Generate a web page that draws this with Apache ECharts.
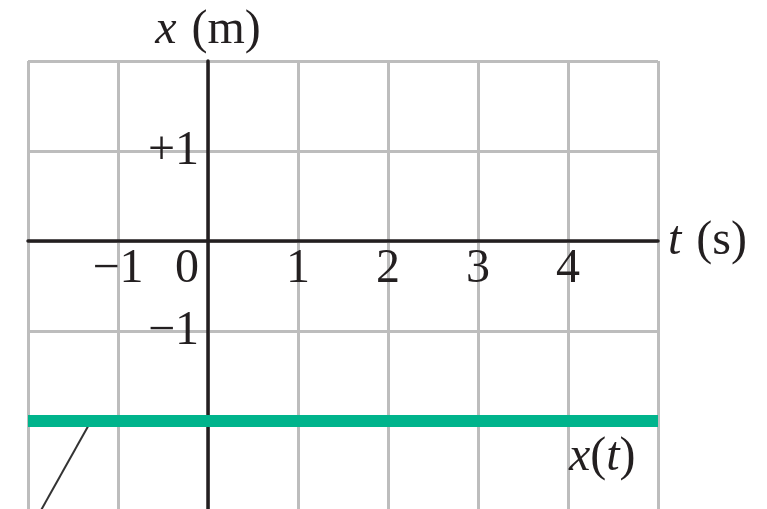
<!DOCTYPE html>
<html>
<head>
<meta charset="utf-8">
<script src="https://cdn.jsdelivr.net/npm/echarts@6/dist/echarts.min.js"></script>
<style>
  html, body { margin: 0; padding: 0; background: #ffffff; }
  #chart { width: 767px; height: 509px; }
</style>
</head>
<body>
<div id="chart"></div>
<script>
// Axis extents (t in seconds, x in metres)
const tRange = [-2, 5];
const xRange = [-3, 2];

// Tick labels that are printed on each axis
const tTickLabels = { '-1': '−1', '0': '0', '1': '1', '2': '2', '3': '3', '4': '4' };
const xTickLabels = { '1': '+1', '-1': '−1' };

// Position–time graph: x stays at −2 m for the whole interval
const positionT = [-2, 5];
const positionX = [-2, -2];

// Leader line running down from the graph
const leaderT = [-1.86, -1.30];
const leaderX = [-3, -2];

// Curve label and where it sits (data units)
const curveLabelT = 4.38;
const curveLabelX = -2.4;

const SERIF = '"Liberation Serif", "DejaVu Serif", "Times New Roman", serif';
const INK = '#231f20';
const GRID = '#bdbdbd';
const GREEN = '#00b48c';
const FS = 48;

// Plot box: 90 px per unit on both axes
const G_LEFT = 28, G_TOP = 61, G_W = 630, G_H = 450;
const tToPx = G_W / (tRange[1] - tRange[0]);
const xToPx = G_H / (xRange[1] - xRange[0]);
// Shift the axes from the grid edges onto the zero lines
const xAxisOffset = -(0 - xRange[0]) * xToPx;   // up from the bottom edge
const yAxisOffset = -(0 - tRange[0]) * tToPx;   // right from the left edge

const italicRich = {
  i: { fontFamily: SERIF, fontSize: FS, fontStyle: 'italic', color: INK, padding: [0, 3, 0, 0] }
};

const chart = echarts.init(document.getElementById('chart'), null, { renderer: 'canvas' });

chart.setOption({
  animation: false,
  backgroundColor: '#ffffff',
  grid: {
    left: G_LEFT, top: G_TOP, width: G_W, height: G_H,
    containLabel: false, outerBoundsMode: 'none'
  },
  xAxis: {
    type: 'value',
    position: 'bottom',
    offset: xAxisOffset,
    min: tRange[0], max: tRange[1], interval: 1,
    name: '{i|t} (s)',
    nameLocation: 'end',
    nameGap: 10,
    nameTextStyle: { fontFamily: SERIF, fontSize: FS, color: INK, rich: italicRich },
    axisLine: { onZero: false, lineStyle: { color: INK, width: 3.5 } },
    axisTick: { show: false },
    splitLine: { show: true, lineStyle: { color: GRID, width: 3 } },
    axisLabel: {
      show: true,
      margin: 4,
      fontFamily: SERIF, fontSize: FS, color: INK,
      formatter: v => {
        const s = tTickLabels[String(v)];
        if (s === undefined) return '';
        return v === 0 ? '{z|' + s + '}' : s;
      },
      rich: { z: { fontFamily: SERIF, fontSize: FS, color: INK, padding: [0, 42, 0, 0] } }
    }
  },
  yAxis: {
    type: 'value',
    position: 'left',
    offset: yAxisOffset,
    min: xRange[0], max: xRange[1], interval: 1,
    name: '{i|x} (m)',
    nameLocation: 'end',
    nameGap: 7,
    nameTextStyle: { fontFamily: SERIF, fontSize: FS, color: INK, rich: italicRich },
    axisLine: { onZero: false, lineStyle: { color: INK, width: 3.5 } },
    axisTick: { show: false },
    splitLine: { show: true, lineStyle: { color: GRID, width: 3 } },
    axisLabel: {
      show: true,
      margin: 9,
      fontFamily: SERIF, fontSize: FS, color: INK,
      formatter: v => xTickLabels[String(v)] || ''
    }
  },
  series: [
    {
      type: 'line',
      z: 2,
      data: leaderT.map((t, i) => [t, leaderX[i]]),
      symbol: 'none',
      lineStyle: { color: '#333333', width: 2 }
    },
    {
      type: 'line',
      z: 3,
      data: positionT.map((t, i) => [t, positionX[i]]),
      symbol: 'none',
      lineStyle: { color: GREEN, width: 12, cap: 'butt' },
      markPoint: {
        symbol: 'circle',
        symbolSize: 0,
        silent: true,
        data: [{ coord: [curveLabelT, curveLabelX] }],
        label: {
          show: true,
          position: 'inside',
          formatter: '{j|x}({j|t})',
          fontFamily: SERIF, fontSize: FS, color: INK,
          rich: { j: { fontFamily: SERIF, fontSize: FS, fontStyle: 'italic', color: INK } }
        }
      }
    }
  ]
});
</script>
</body>
</html>
